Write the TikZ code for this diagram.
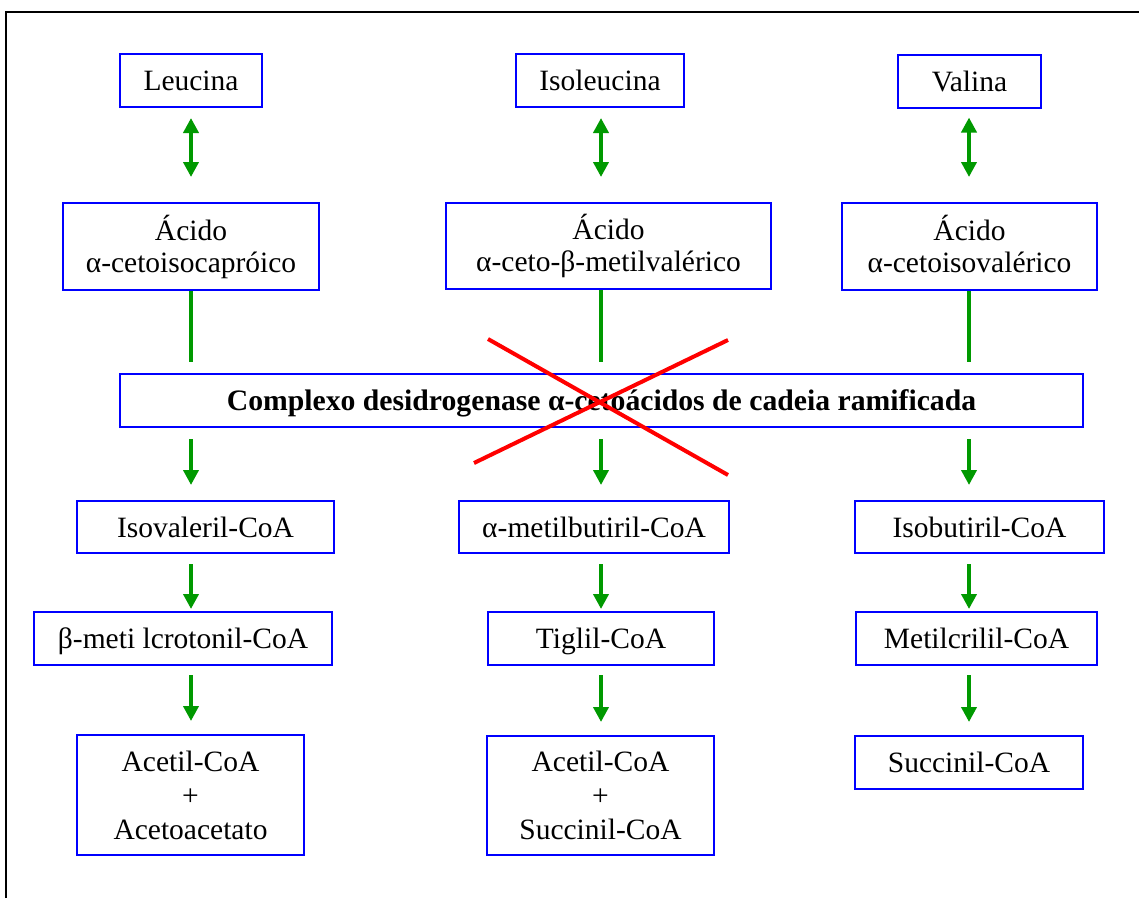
\documentclass[tikz,border=0pt]{standalone}
\usepackage{fontspec}
\setmainfont{Liberation Serif}
\usetikzlibrary{arrows.meta}
\definecolor{boxblue}{RGB}{0,0,255}
\definecolor{arrgreen}{RGB}{0,153,0}
\definecolor{crossred}{RGB}{255,0,0}
\tikzset{
  box/.style={draw=boxblue, line width=2pt, inner sep=0pt, align=center,
    font=\fontsize{29.5}{34}\selectfont},
  oneline/.style={text height=20pt, text depth=0pt},
  flow/.style={draw=arrgreen, line width=4pt,
    -{Triangle[width=15pt,length=15pt]}},
  twoway/.style={draw=arrgreen, line width=4pt,
    {Triangle[width=15pt,length=15pt]}-{Triangle[width=15pt,length=15pt]}},
  plainline/.style={draw=arrgreen, line width=4pt},
  cross/.style={draw=crossred, line width=4pt},
  frame/.style={draw=black, line width=2.8pt}
}
\begin{document}
\begin{tikzpicture}[x=1pt,y=-1pt]
\useasboundingbox (0,0) rectangle (1139,898);
\draw[frame] (6,898) -- (6,12) -- (1139,12);

\coordinate (cL) at (191,0);
\coordinate (cM) at (601,0);
\coordinate (cR) at (969,0);

% row 1
\node[box, oneline, minimum width=142pt, minimum height=53pt] (leu) at (191,80.5) {Leucina};
\node[box, oneline, minimum width=168pt, minimum height=53pt] (ile) at (600,80.5) {Isoleucina};
\node[box, oneline, minimum width=143pt, minimum height=53pt] (val) at (969.5,81) {Valina};
% row 2
\node[box, font=\fontsize{29.5}{32}\selectfont, minimum width=256pt, minimum height=87pt] (acL) at (191,246.5) {Ácido\\α-cetoisocapróico};
\node[box, font=\fontsize{29.5}{32}\selectfont, minimum width=325pt, minimum height=86pt] (acM) at (608.5,246) {Ácido\\α-ceto-β-metilvalérico};
\node[box, font=\fontsize{29.5}{32}\selectfont, minimum width=255pt, minimum height=87pt] (acR) at (969.5,246.5) {Ácido\\α-cetoisovalérico\vphantom{p}};
% complex
\node[box, oneline, minimum width=963pt, minimum height=53pt, font=\fontsize{29.7}{34}\selectfont\bfseries] (cx) at (601.5,400.5) {Complexo desidrogenase α-cetoácidos de cadeia ramificada};
% row 3
\node[box, oneline, minimum width=257pt, minimum height=52pt] (ivl) at (205.5,527) {Isovaleril-CoA};
\node[box, oneline, minimum width=270pt, minimum height=52pt] (mbt) at (594,527) {α-metilbutiril-CoA};
\node[box, oneline, minimum width=249pt, minimum height=52pt] (ibt) at (979.5,527) {Isobutiril-CoA};
% row 4
\node[box, oneline, minimum width=298pt, minimum height=53pt] (mcr) at (183,638.5) {β-meti lcrotonil-CoA};
\node[box, oneline, minimum width=226pt, minimum height=53pt] (tig) at (601,638.5) {Tiglil-CoA};
\node[box, oneline, minimum width=241pt, minimum height=53pt] (mtc) at (976.5,638.5) {Metilcrilil-CoA};
% row 5
\node[box, minimum width=227pt, minimum height=120pt] (endL) at (190.5,795) {Acetil-CoA\\+\\Acetoacetato};
\node[box, minimum width=227pt, minimum height=119pt] (endM) at (600.5,795.5) {Acetil-CoA\\+\\Succinil-CoA};
\node[box, oneline, minimum width=228pt, minimum height=53pt] (endR) at (969,762.5) {Succinil-CoA};

% reversible arrows
\draw[twoway, shorten <=10pt, shorten >=25pt] (leu.south -| cL) -- (acL.north -| cL);
\draw[twoway, shorten <=10pt, shorten >=25pt] (ile.south -| cM) -- (acM.north -| cM);
\draw[twoway, shorten <=9pt, shorten >=25pt] (val.south -| cR) -- (acR.north -| cR);

% lines into complex
\draw[plainline, shorten >=11pt] (acL.south -| cL) -- (cx.north -| cL);
\draw[plainline, shorten >=11pt] (acM.south -| cM) -- (cx.north -| cM);
\draw[plainline, shorten >=11pt] (acR.south -| cR) -- (cx.north -| cR);

% arrows out of complex
\draw[flow, shorten <=11pt, shorten >=15pt] (cx.south -| cL) -- (ivl.north -| cL);
\draw[flow, shorten <=11pt, shorten >=15pt] (cx.south -| cM) -- (mbt.north -| cM);
\draw[flow, shorten <=11pt, shorten >=15pt] (cx.south -| cR) -- (ibt.north -| cR);

\draw[flow, shorten <=10pt, shorten >=2pt] (ivl.south -| cL) -- (mcr.north -| cL);
\draw[flow, shorten <=10pt, shorten >=2pt] (mbt.south -| cM) -- (tig.north -| cM);
\draw[flow, shorten <=10pt, shorten >=2pt] (ibt.south -| cR) -- (mtc.north -| cR);

\draw[flow, shorten <=9pt, shorten >=13pt] (mcr.south -| cL) -- (endL.north -| cL);
\draw[flow, shorten <=9pt, shorten >=13pt] (tig.south -| cM) -- (endM.north -| cM);
\draw[flow, shorten <=9pt, shorten >=13pt] (mtc.south -| cR) -- (endR.north -| cR);

% red cross
\coordinate (x1) at (488,339);
\coordinate (x2) at (728,475);
\coordinate (x3) at (474,463);
\coordinate (x4) at (728,340);
\draw[cross] (x1) -- (x2);
\draw[cross] (x3) -- (x4);
\end{tikzpicture}
\end{document}
